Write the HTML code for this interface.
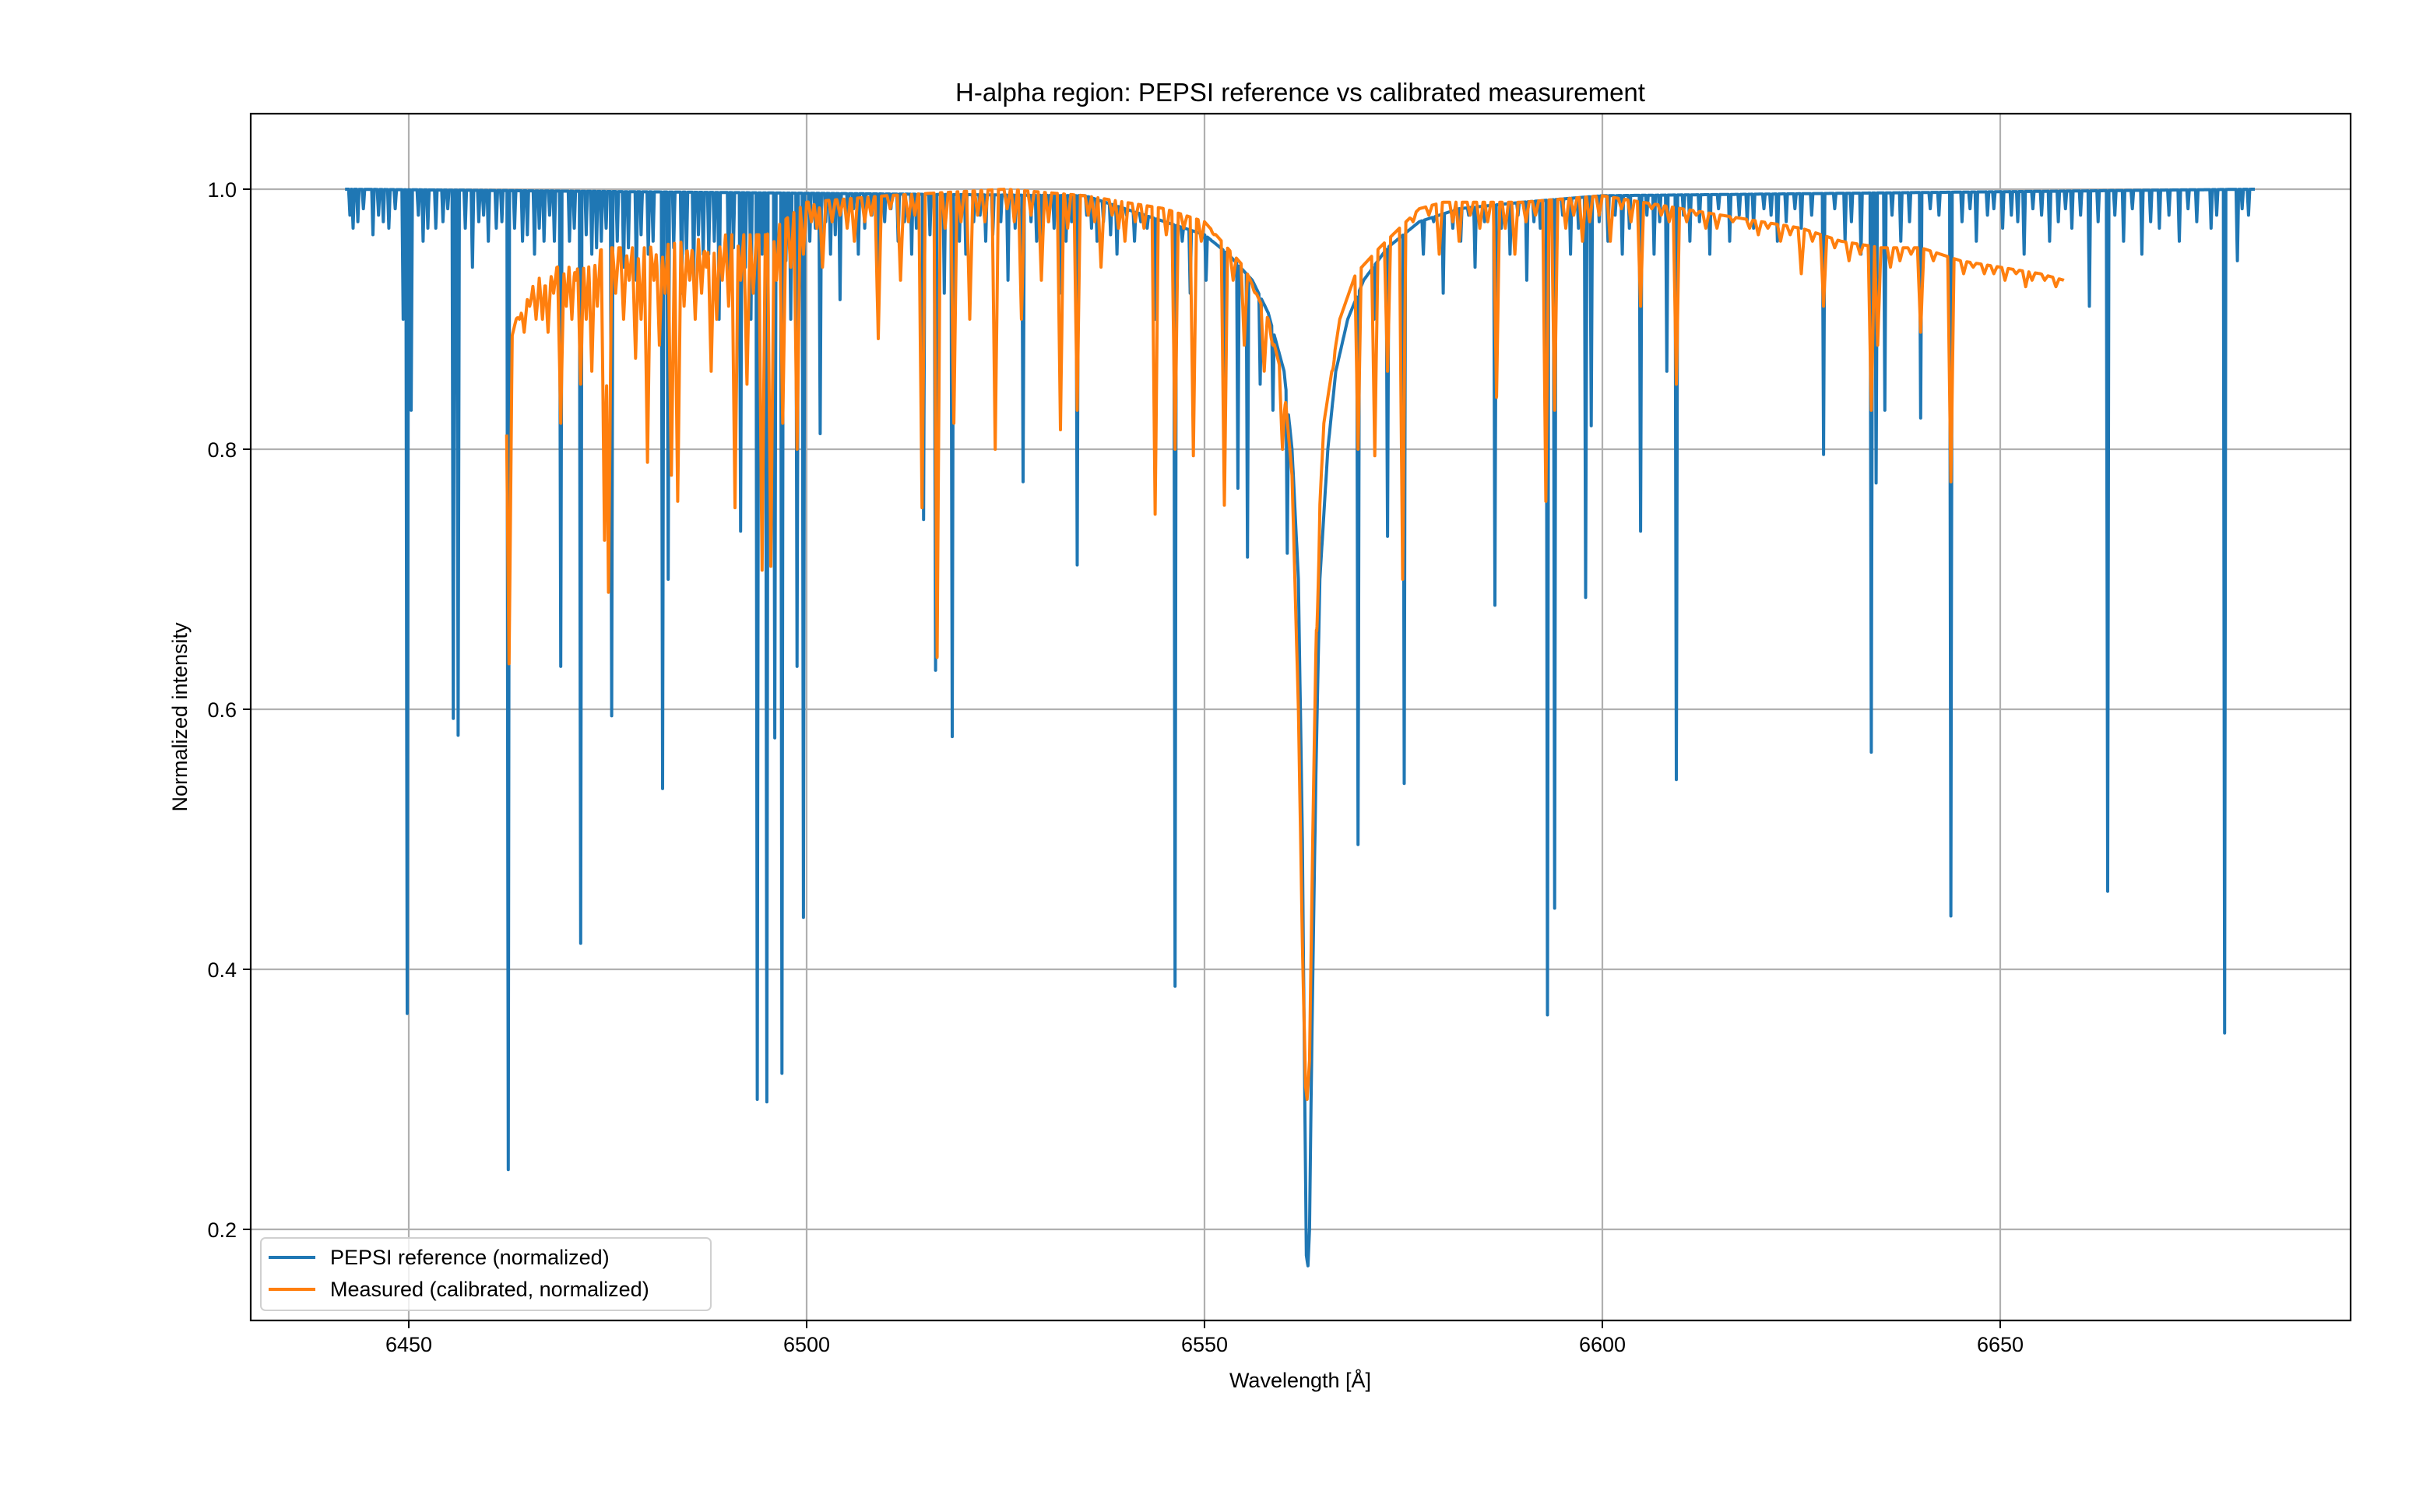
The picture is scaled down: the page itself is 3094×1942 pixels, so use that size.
<!DOCTYPE html>
<html><head><meta charset="utf-8">
<style>
html,body{margin:0;padding:0;background:#fff;}
svg{display:block;}
text{font-family:"Liberation Sans","DejaVu Sans",sans-serif;fill:#000;}
</style></head>
<body>
<svg id="chart" width="3094" height="1942" viewBox="0 0 3094 1942" xmlns="http://www.w3.org/2000/svg">
<rect x="0" y="0" width="3094" height="1942" fill="#fff"/>
<g id="grid"></g>
<g id="clip-area"><clipPath id="cp"><rect x="322" y="146" width="2697" height="1550"/></clipPath>
<g clip-path="url(#cp)" id="series"></g></g>
<rect x="322" y="146" width="2697" height="1550" fill="none" stroke="#000" stroke-width="2.2"/>
<g id="ticks"></g>
<text x="1670" y="130" font-size="33" text-anchor="middle">H-alpha region: PEPSI reference vs calibrated measurement</text>
<text x="1670" y="1782" font-size="27" text-anchor="middle">Wavelength [Å]</text>
<text x="0" y="0" font-size="27" text-anchor="middle" transform="translate(240,921) rotate(-90)">Normalized intensity</text>
<g>
<rect x="335" y="1590" width="578" height="93" rx="6" fill="#fff" fill-opacity="0.8" stroke="#d0d0d0" stroke-width="2"/>
<line x1="345" y1="1615" x2="405" y2="1615" stroke="#1f77b4" stroke-width="4"/>
<text x="424" y="1624" font-size="27">PEPSI reference (normalized)</text>
<line x1="345" y1="1656" x2="405" y2="1656" stroke="#ff7f0e" stroke-width="4"/>
<text x="424" y="1665" font-size="27">Measured (calibrated, normalized)</text>
</g>
</svg>
<script>
// ---- data ----
const xTicks = [6450, 6500, 6550, 6600, 6650];
const yTicks = [0.2, 0.4, 0.6, 0.8, 1.0];
const yTickLabels = ["0.2", "0.4", "0.6", "0.8", "1.0"];
const refContW = [6442,6535,6540,6545,6550,6553,6556,6558,6560,6561,6561.8,6562.3,6562.6,6562.8,6563.0,6563.2,6563.5,6564,6564.5,6565.5,6566.5,6568,6570,6573,6577,6582,6590,6600,6682];
const refContV = [1.0,0.995,0.985,0.975,0.965,0.95,0.93,0.905,0.86,0.80,0.70,0.50,0.30,0.18,0.172,0.20,0.35,0.55,0.70,0.80,0.86,0.90,0.93,0.955,0.975,0.985,0.99,0.995,1.0];
const refLineW = [6443.0,6445.5,6447.5,6449.3,6449.8,6450.3,6451.8,6453.4,6455.6,6456.2,6458.0,6460.0,6462.5,6464.3,6465.8,6467.0,6469.1,6470.2,6471.6,6473.0,6474.2,6475.5,6477.0,6478.6,6480.1,6481.9,6482.6,6484.3,6485.8,6487.0,6489.0,6490.2,6491.7,6493.0,6493.8,6495.0,6496.0,6496.9,6498.0,6498.8,6499.6,6501.7,6503.0,6504.2,6506.5,6509.0,6511.5,6513.2,6514.7,6516.2,6517.3,6518.3,6520.0,6522.5,6525.3,6527.2,6529.5,6531.8,6534.0,6536.5,6539.0,6541.2,6543.8,6546.3,6548.2,6550.2,6552.5,6554.2,6555.4,6557.0,6558.6,6560.4,6566.3,6569.3,6571.3,6573.0,6575.1,6577.5,6580.0,6582.2,6584.0,6586.5,6588.4,6590.5,6593.1,6594.0,6596.0,6597.9,6598.6,6600.7,6602.5,6604.8,6606.5,6608.1,6609.3,6611.0,6613.5,6616.0,6619.0,6622.0,6625.0,6627.8,6630.5,6632.5,6633.8,6634.4,6635.5,6637.5,6640.0,6643.8,6647.0,6650.3,6653.0,6656.2,6659.0,6661.2,6663.5,6665.5,6667.8,6670.0,6672.5,6676.5,6678.2,6679.8];
const refLineV = [0.97,0.965,0.97,0.90,0.366,0.83,0.96,0.97,0.593,0.58,0.94,0.96,0.246,0.96,0.95,0.96,0.633,0.96,0.42,0.95,0.96,0.595,0.94,0.93,0.95,0.539,0.70,0.92,0.93,0.95,0.90,0.92,0.737,0.90,0.30,0.298,0.578,0.32,0.90,0.633,0.44,0.812,0.95,0.915,0.95,0.94,0.96,0.95,0.746,0.63,0.92,0.579,0.95,0.96,0.93,0.775,0.95,0.92,0.711,0.96,0.95,0.96,0.90,0.387,0.92,0.93,0.84,0.77,0.717,0.85,0.83,0.72,0.86,0.496,0.90,0.733,0.543,0.95,0.92,0.96,0.94,0.68,0.95,0.93,0.365,0.447,0.95,0.686,0.818,0.96,0.95,0.737,0.95,0.86,0.546,0.96,0.95,0.96,0.97,0.96,0.97,0.796,0.96,0.95,0.567,0.774,0.83,0.96,0.824,0.441,0.96,0.97,0.95,0.96,0.97,0.91,0.46,0.96,0.95,0.97,0.96,0.97,0.351,0.945];
// extra small PEPSI lines (shallow blends)
const refSmallW = [6442.6,6443.6,6444.3,6446.2,6446.8,6448.3,6451.2,6452.4,6454.3,6454.9,6457.1,6458.8,6459.4,6461.0,6461.7,6463.3,6464.9,6466.4,6467.7,6468.3,6470.8,6472.3,6473.6,6474.8,6476.2,6477.6,6479.2,6480.7,6483.3,6484.9,6486.4,6487.7,6488.4,6490.8,6492.3,6494.4,6497.4,6500.4,6501.1,6502.4,6503.6,6505.2,6505.9,6507.3,6508.2,6509.8,6510.6,6512.3,6513.8,6515.5,6519.2,6521.0,6521.8,6523.4,6524.4,6526.2,6528.2,6528.9,6530.4,6531.1,6532.6,6533.3,6535.2,6535.8,6537.3,6538.2,6540.2,6542.0,6542.8,6544.6,6545.4,6547.2,6549.1,6551.0,6551.8,6553.3,6556.2,6559.4,6567.3,6568.2,6570.4,6572.1,6574.1,6576.2,6578.8,6581.2,6583.2,6585.2,6587.3,6589.4,6591.4,6592.2,6595.0,6597.0,6599.6,6601.6,6603.4,6605.6,6607.2,6610.2,6612.2,6614.6,6617.2,6618.2,6620.3,6621.2,6623.1,6624.2,6626.3,6629.2,6631.3,6636.4,6638.6,6641.2,6642.3,6645.2,6646.2,6648.4,6649.2,6651.4,6652.2,6654.1,6655.2,6657.3,6658.2,6660.1,6662.3,6664.4,6666.6,6668.9,6671.2,6673.6,6674.7,6677.2,6680.4,6681.2];
const refSmallV = [0.98,0.975,0.985,0.98,0.975,0.985,0.98,0.97,0.975,0.985,0.97,0.975,0.98,0.97,0.975,0.97,0.965,0.97,0.98,0.96,0.97,0.965,0.955,0.97,0.96,0.955,0.965,0.96,0.955,0.95,0.965,0.95,0.96,0.955,0.94,0.95,0.945,0.96,0.97,0.975,0.965,0.975,0.985,0.97,0.98,0.975,0.985,0.975,0.97,0.965,0.96,0.975,0.98,0.965,0.975,0.97,0.975,0.96,0.975,0.97,0.96,0.975,0.98,0.97,0.975,0.965,0.98,0.975,0.97,0.98,0.975,0.96,0.97,0.96,0.965,0.95,0.94,0.9,0.95,0.97,0.96,0.975,0.97,0.98,0.975,0.97,0.98,0.975,0.97,0.98,0.975,0.97,0.98,0.97,0.975,0.98,0.97,0.98,0.975,0.98,0.975,0.985,0.98,0.975,0.985,0.98,0.975,0.985,0.98,0.985,0.975,0.98,0.975,0.985,0.98,0.975,0.985,0.98,0.985,0.98,0.975,0.985,0.98,0.975,0.985,0.98,0.975,0.98,0.985,0.975,0.98,0.985,0.975,0.98,0.985,0.98];
const measContW = [6462.3,6463.5,6466,6470,6475,6480,6485,6490,6495,6500,6510,6525,6535,6540,6545,6550,6555,6558,6560,6561,6561.8,6562.3,6562.7,6562.9,6563.2,6563.6,6564.2,6565,6567,6569,6572,6577,6580,6590,6600,6605,6610,6615,6620,6625,6630,6635,6640,6645,6650,6655,6658];
const measContV = [0.87,0.90,0.93,0.945,0.955,0.955,0.96,0.965,0.965,0.99,0.995,1.0,0.995,0.99,0.985,0.975,0.94,0.90,0.85,0.78,0.60,0.42,0.31,0.30,0.33,0.50,0.72,0.82,0.90,0.935,0.955,0.985,0.99,0.99,0.995,0.99,0.985,0.98,0.975,0.97,0.96,0.955,0.955,0.945,0.94,0.935,0.93];
const measLineW = [6462.6,6464.5,6466.0,6467.5,6469.1,6470.5,6471.6,6473.0,6474.6,6475.1,6477.0,6478.5,6480.0,6481.5,6483.0,6483.8,6486.0,6488.0,6491.0,6492.5,6494.4,6495.5,6497.0,6498.8,6502.0,6506.0,6509.0,6511.8,6514.5,6516.4,6518.5,6520.5,6523.7,6527.0,6529.5,6531.9,6534.0,6537.0,6540.0,6543.8,6546.3,6548.6,6552.5,6555.0,6557.5,6559.8,6564.1,6566.0,6569.3,6571.4,6573.0,6574.9,6579.5,6582.0,6586.7,6589.0,6592.9,6594.0,6597.5,6601.0,6604.8,6609.3,6613.0,6618.5,6625.0,6627.8,6633.8,6634.6,6640.0,6643.8,6648.0,6654.0];
const measLineV = [0.635,0.89,0.90,0.89,0.82,0.90,0.85,0.86,0.73,0.69,0.90,0.87,0.79,0.88,0.78,0.76,0.90,0.86,0.755,0.85,0.707,0.71,0.82,0.80,0.94,0.96,0.885,0.93,0.755,0.64,0.82,0.90,0.80,0.90,0.93,0.815,0.83,0.94,0.96,0.75,0.80,0.795,0.757,0.88,0.86,0.80,0.66,0.86,0.80,0.795,0.86,0.70,0.95,0.96,0.84,0.95,0.76,0.83,0.96,0.96,0.91,0.85,0.97,0.97,0.935,0.91,0.83,0.88,0.89,0.775,0.935,0.93];
const measSmallW = [6463.9,6465.2,6466.8,6468.2,6469.8,6471.0,6472.3,6473.7,6476.0,6477.7,6479.2,6480.8,6482.2,6484.6,6485.3,6486.8,6487.4,6488.7,6489.4,6490.2,6491.7,6493.3,6496.2,6498.0,6499.6,6500.6,6501.3,6503.2,6504.2,6505.1,6507.3,6508.1,6510.5,6512.8,6513.6,6517.4,6519.4,6521.5,6522.4,6525.2,6526.1,6528.2,6530.4,6532.8,6535.4,6536.2,6538.4,6539.2,6541.3,6542.4,6545.2,6547.4,6549.6,6551.2,6553.6,6556.4,6558.6,6576.2,6578.2,6581.2,6583.4,6584.6,6585.6,6587.8,6590.4,6591.6,6595.4,6596.4,6598.4,6599.6,6602.4,6603.6,6606.2,6607.4,6608.4,6610.6,6611.8,6614.4,6616.4,6619.6,6620.8,6622.4,6623.6,6626.4,6629.2,6631.0,6632.4,6636.2,6637.4,6638.8,6641.6,6645.4,6646.6,6649.2,6650.6,6652.0,6653.2,6655.6,6657.0];
const measSmallV = [0.90,0.91,0.90,0.92,0.91,0.93,0.90,0.91,0.92,0.93,0.90,0.93,0.92,0.91,0.93,0.92,0.94,0.90,0.93,0.91,0.93,0.92,0.93,0.94,0.95,0.975,0.97,0.975,0.98,0.97,0.975,0.98,0.985,0.975,0.98,0.97,0.975,0.98,0.975,0.985,0.975,0.98,0.975,0.97,0.98,0.975,0.98,0.97,0.975,0.97,0.965,0.97,0.96,0.965,0.93,0.92,0.88,0.975,0.98,0.975,0.98,0.97,0.975,0.97,0.975,0.98,0.97,0.98,0.975,0.98,0.985,0.975,0.985,0.98,0.975,0.975,0.98,0.97,0.975,0.965,0.97,0.96,0.965,0.96,0.955,0.945,0.95,0.94,0.945,0.95,0.945,0.935,0.94,0.935,0.93,0.935,0.925,0.93,0.925];

// ---- axes ----
const X0=322, X1=3019, Y0=146, Y1=1696;
const sx = w => 525 + (w-6450)*10.22;
const sy = v => 243 + (1-v)*1670;

function interp(ws, vs, w){
  if(w<=ws[0]) return vs[0];
  for(let i=1;i<ws.length;i++){ if(w<=ws[i]){const t=(w-ws[i-1])/(ws[i]-ws[i-1]);return vs[i-1]+t*(vs[i]-vs[i-1]);} }
  return vs[vs.length-1];
}
function spectrum(cw, cv, lw, lv, hw, step){
  const set=[];
  const n=Math.round((cw[cw.length-1]-cw[0])/step);
  for(let k=0;k<=n;k++) set.push(cw[0]+k*step);
  lw.forEach(c=>{set.push(c);set.push(c-hw);set.push(c+hw);});
  cw.forEach(c=>set.push(c));
  set.sort((a,b)=>a-b);
  const pts=[];
  for(const w of set){
    if(w<cw[0]||w>cw[cw.length-1]) continue;
    const c=interp(cw,cv,w);
    let v=c;
    for(let i=0;i<lw.length;i++){
      const d=Math.abs(w-lw[i]);
      if(d<hw){ const f=1-d/hw; const m=Math.min(lv[i], c); const u=c-(c-m)*f; if(u<v) v=u; }
    }
    pts.push([w,v]);
  }
  return pts;
}
const NS="http://www.w3.org/2000/svg";
const grid=document.getElementById('grid'), ticks=document.getElementById('ticks'), series=document.getElementById('series');
xTicks.forEach(t=>{
  const l=document.createElementNS(NS,'line');
  
  
  l.setAttribute('x1',sx(t));l.setAttribute('x2',sx(t));l.setAttribute('y1',Y0);l.setAttribute('y2',Y1);
  l.setAttribute('stroke','#b0b0b0');l.setAttribute('stroke-width','2.2');grid.appendChild(l);
  const tk=document.createElementNS(NS,'line');
  
  
  tk.setAttribute('x1',sx(t));tk.setAttribute('x2',sx(t));tk.setAttribute('y1',Y1);tk.setAttribute('y2',Y1+10);
  tk.setAttribute('stroke','#000');tk.setAttribute('stroke-width','2');ticks.appendChild(tk);
  const tx=document.createElementNS(NS,'text');
  
  
  tx.setAttribute('x',sx(t));tx.setAttribute('y',Y1+40);tx.setAttribute('font-size','27');tx.setAttribute('text-anchor','middle');
  tx.textContent=String(t);ticks.appendChild(tx);
});
yTicks.forEach((t,i)=>{
  const l=document.createElementNS(NS,'line');
  
  
  l.setAttribute('x1',X0);l.setAttribute('x2',X1);l.setAttribute('y1',sy(t));l.setAttribute('y2',sy(t));
  l.setAttribute('stroke','#b0b0b0');l.setAttribute('stroke-width','2.2');grid.appendChild(l);
  const tk=document.createElementNS(NS,'line');
  
  
  tk.setAttribute('x1',X0-10);tk.setAttribute('x2',X0);tk.setAttribute('y1',sy(t));tk.setAttribute('y2',sy(t));
  tk.setAttribute('stroke','#000');tk.setAttribute('stroke-width','2');ticks.appendChild(tk);
  const tx=document.createElementNS(NS,'text');
  
  
  tx.setAttribute('x',X0-18);tx.setAttribute('y',sy(t)+10);tx.setAttribute('font-size','27');tx.setAttribute('text-anchor','end');
  tx.textContent=yTickLabels[i];ticks.appendChild(tx);
});
function drawLine(pts,color,name){
  const p=document.createElementNS(NS,'polyline');
  
  
  p.setAttribute('points',pts.map(q=>sx(q[0]).toFixed(1)+','+sy(q[1]).toFixed(1)).join(' '));
  p.setAttribute('fill','none');p.setAttribute('stroke',color);p.setAttribute('stroke-width','4');p.setAttribute('stroke-linejoin','round');
  series.appendChild(p);
}
const refPts = spectrum(refContW, refContV, refLineW.concat(refSmallW), refLineV.concat(refSmallV), 0.16, 0.05);
const measPts = spectrum(measContW, measContV, measLineW.concat(measSmallW), measLineV.concat(measSmallV), 0.4, 0.08);
drawLine(refPts,'#1f77b4','pepsi-reference-line');
drawLine(measPts,'#ff7f0e','measured-line');
</script>
</body></html>
